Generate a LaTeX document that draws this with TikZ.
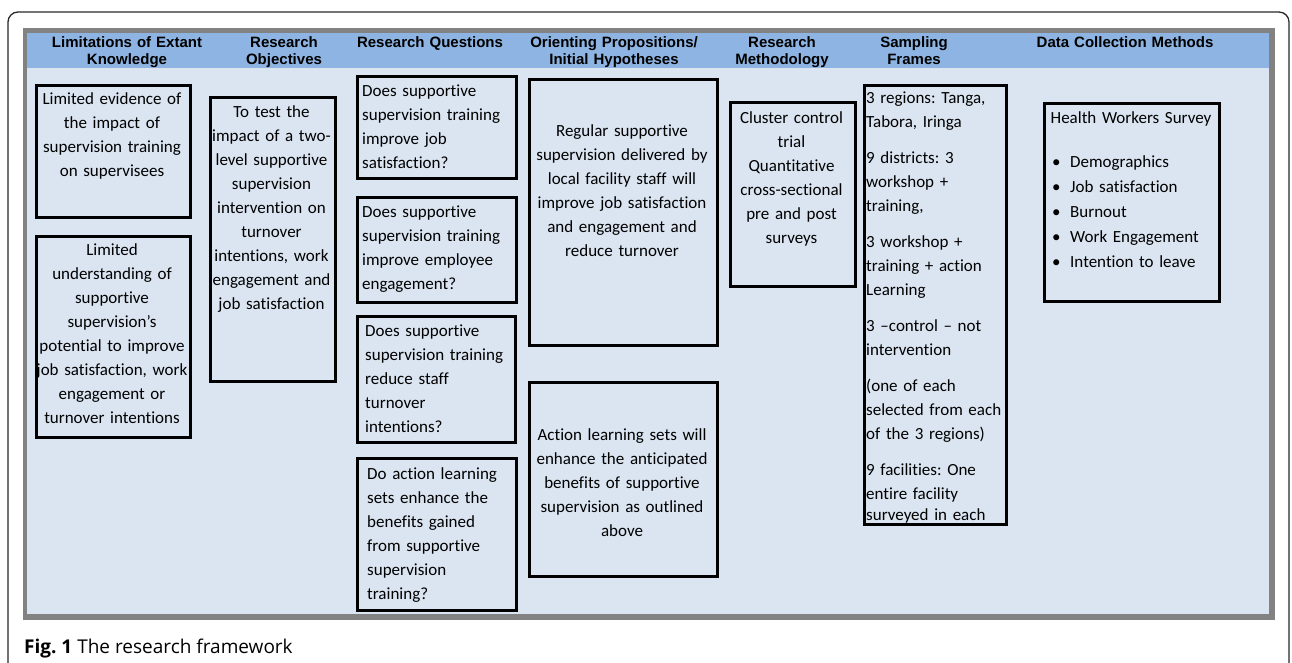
\documentclass[tikz,border=0pt]{standalone}
\usepackage{fontspec}
\setmainfont{Carlito}[Ligatures={NoCommon}]
\newfontfamily\hdfont{Liberation Sans}
\newfontfamily\capfont{Open Sans}
\definecolor{panelbg}{RGB}{219,229,241}
\definecolor{hdrbg}{RGB}{141,180,226}
\definecolor{shadowgray}{RGB}{130,130,130}
\definecolor{framec}{RGB}{40,40,40}
\frenchspacing
\begin{document}
\frenchspacing
\begin{tikzpicture}[x=1pt,y=-1pt,
  box/.style={draw=black, line width=2.6pt, fill=panelbg, rectangle, inner sep=0pt, anchor=north west},
  bodyfont/.style={font=\frenchspacing\fontsize{17}{24}\selectfont},
  txtc/.style={bodyfont, align=center, inner sep=0pt, anchor=north},
  txtl/.style={bodyfont, align=left, inner sep=0pt, anchor=north west, text width=220pt},
  hdr/.style={font=\hdfont\bfseries\fontsize{15}{17}\selectfont, align=center, inner sep=0pt, anchor=north, text width=200pt}
]
\useasboundingbox (0,0) rectangle (1292,662);
% outer frame
\draw[framec, line width=1.3pt, rounded corners=10pt] (8,664) -- (8,12) -- (1289,12) -- (1289,664);
% panel
\fill[shadowgray] (23,28) rectangle (1275,620);
\fill[panelbg] (27,33) rectangle (1269,614);
\fill[hdrbg] (27,33) rectangle (1269,68);
% headers
\node[hdr] (h1) at (127,36.5) {Limitations of Extant\\Knowledge};
\node[hdr] (h2) at (284,36.5) {Research\\Objectives};
\node[hdr] (h3) at (430,36.5) {Research Questions};
\node[hdr] (h4) at (614,36.5) {Orienting Propositions/\\Initial Hypotheses};
\node[hdr] (h5) at (782,36.5) {Research\\Methodology};
\node[hdr] (h6) at (914,36.5) {Sampling\\Frames};
\node[hdr] (h7) at (1125,36.5) {Data Collection Methods};
% limitations
\node[box, minimum width=154pt, minimum height=132pt] (l1) at (35,84) {};
\node[txtc, text width=180pt] (l1t) at (112,92) {Limited evidence of\\the impact of\\supervision training\\on supervisees};
\node[box, minimum width=154pt, minimum height=201pt] (l2) at (35,235) {};
\node[txtc, text width=180pt] (l2t) at (112,243) {Limited\\understanding of\\supportive\\supervision's\\potential to improve\\job satisfaction, work\\engagement or\\turnover intentions};
% objectives
\node[box, minimum width=125pt, minimum height=284pt] (o1) at (209,96) {};
\node[txtc, text width=160pt] (o1t) at (271.5,105) {To test the\\impact of a two-\\level supportive\\supervision\\intervention on\\turnover\\intentions, work\\engagement and\\job satisfaction};
% questions
\node[box, minimum width=159pt, minimum height=102pt] (q1) at (356,75) {};
\node[txtl] (q1t) at (362,85) {Does supportive\\supervision training\\improve job\\satisfaction?};
\node[box, minimum width=159pt, minimum height=105pt] (q2) at (356,196) {};
\node[txtl] (q2t) at (362,206) {Does supportive\\supervision training\\improve employee\\engagement?};
\node[box, minimum width=158pt, minimum height=126pt] (q3) at (356,315) {};
\node[txtl] (q3t) at (365,325) {Does supportive\\supervision training\\reduce staff\\turnover\\intentions?};
\node[box, minimum width=159pt, minimum height=152pt] (q4) at (356,457) {};
\node[txtl] (q4t) at (367,467) {Do action learning\\sets enhance the\\benefits gained\\from supportive\\supervision\\training?};
% hypotheses
\node[box, minimum width=188pt, minimum height=266pt] (p1) at (528,78) {};
\node[txtc, text width=220pt] (p1t) at (622,124) {Regular supportive\\supervision delivered by\\local facility staff will\\improve job satisfaction\\and engagement and\\reduce turnover};
\node[box, minimum width=188pt, minimum height=194pt] (p2) at (528,381) {};
\node[txtc, text width=220pt] (p2t) at (622,428) {Action learning sets will\\enhance the anticipated\\benefits of supportive\\supervision as outlined\\above};
% methodology
\node[box, minimum width=125pt, minimum height=184pt] (m1) at (729,101) {};
\node[txtc, text width=160pt] (m1t) at (791.5,111) {Cluster control\\trial\\Quantitative\\cross-sectional\\pre and post\\surveys};
% sampling
\node[box, minimum width=142pt, minimum height=439pt] (s1) at (863,84) {};
\node[txtl] (s1t) at (866,92) {3 regions: Tanga,\\Tabora, Iringa\\[12pt]9 districts: 3\\workshop +\\training,\\[12pt]3 workshop +\\training + action\\Learning\\[12pt]3 –control – not\\intervention\\[12pt](one of each\\selected from each\\of the 3 regions)\\[12pt]9 facilities: One\\entire facility\\[-3pt]surveyed in each};
% data collection
\node[box, minimum width=175pt, minimum height=198pt] (d1) at (1043,102) {};
\node[txtc, text width=200pt] (d1t) at (1131,111) {Health Workers Survey};
\node[txtl, font=\fontsize{17}{25}\selectfont] (d1b) at (1052,155) {\makebox[18pt][l]{•}Demographics\\\makebox[18pt][l]{•}Job satisfaction\\\makebox[18pt][l]{•}Burnout\\\makebox[18pt][l]{•}Work Engagement\\\makebox[18pt][l]{•}Intention to leave};
% caption
\node[anchor=base west, inner sep=0pt, font=\capfont\fontsize{19}{21}\selectfont] (cap) at (24,653) {\textbf{Fig. 1} The research framework};
\end{tikzpicture}
\end{document}
